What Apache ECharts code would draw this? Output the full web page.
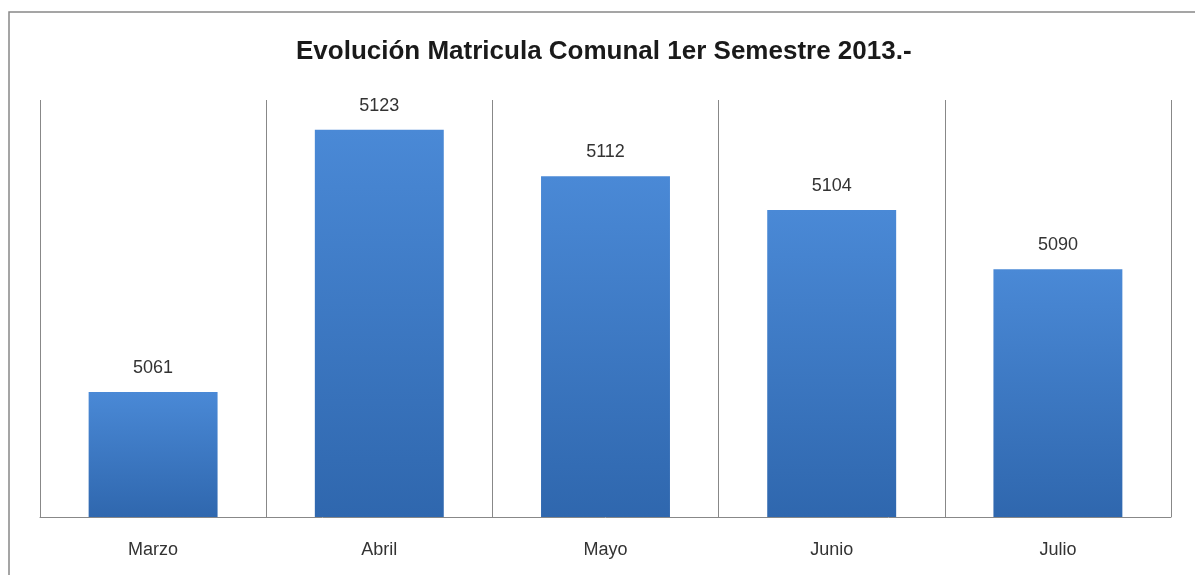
<!DOCTYPE html>
<html>
<head>
<meta charset="utf-8">
<script src="https://cdn.jsdelivr.net/npm/echarts@6/dist/echarts.min.js"></script>
<style>
  html, body { margin: 0; padding: 0; background: #fff; }
  #chart { width: 1195px; height: 575px; }
</style>
</head>
<body>
<div id="chart"></div>
<script>
const meses = ["Marzo", "Abril", "Mayo", "Junio", "Julio"];
const matricula = [5061, 5123, 5112, 5104, 5090];

const chart = echarts.init(document.getElementById("chart"));
const option = {
  backgroundColor: "#fff",
  animation: false,
  textStyle: { fontFamily: "Liberation Sans, Arial, sans-serif" },
  title: {
    text: "Evolución Matricula Comunal 1er Semestre 2013.-",
    left: 291,
    top: 34,
    textStyle: { fontSize: 26, fontWeight: "bold", color: "#1a1a1a" },
  },
  graphic: [
    {
      type: "rect",
      shape: { x: 9, y: 12, width: 1200, height: 600 },
      style: { fill: "none", stroke: "#888", lineWidth: 1.5 },
      silent: true,
    },
  ],
  grid: { left: 40, right: 24, top: 100, bottom: 58 },
  xAxis: {
    type: "category",
    data: meses,
    axisTick: { show: false },
    axisLine: { lineStyle: { color: "#888", width: 1 } },
    axisLabel: { color: "#333", fontSize: 18, margin: 24 },
    splitLine: { show: true, lineStyle: { color: "#888", width: 1 } },
  },
  yAxis: {
    type: "value",
    min: 5031.5,
    max: 5130,
    show: false,
    splitLine: { show: false },
  },
  series: [
    {
      type: "bar",
      data: matricula,
      barWidth: "57%",
      itemStyle: {
        color: new echarts.graphic.LinearGradient(0, 0, 0, 1, [
          { offset: 0, color: "#4a89d6" },
          { offset: 1, color: "#2f67ae" },
        ]),
      },
      label: {
        show: true,
        position: "top",
        distance: 15,
        color: "#333",
        fontSize: 18,
      },
    },
  ],
};
chart.setOption(option);
</script>
</body>
</html>
